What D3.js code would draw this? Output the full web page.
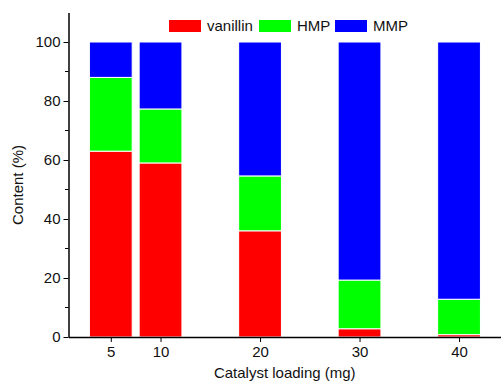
<!DOCTYPE html>
<html>
<head>
<meta charset="utf-8">
<script src="https://cdn.jsdelivr.net/npm/d3@7"></script>
<style>
body { margin: 0; background: #fff; }
svg text { font-family: "Liberation Sans", Arial, sans-serif; fill: #111; }
</style>
</head>
<body>
<div id="chart"></div>
<script>
const width = 501, height = 381;

// catalyst loading (mg)
const loading = [5, 10, 20, 30, 40];
// content (%) for each product
const vanillin = [63, 59, 36, 2.8, 0.8];
const hmp = [25, 18.3, 18.6, 16.5, 12];
const mmp = [12, 22.7, 45.4, 80.7, 87.2];

const seriesNames = ["vanillin", "HMP", "MMP"];
const seriesColors = ["#ff0000", "#00ff00", "#0000ff"];
const yTicks = [0, 20, 40, 60, 80, 100];

const margin = {left: 68.5, top: 12.5, bottom: 44};

// rows for the stack layout
const rows = loading.map((l, i) => ({x: l, vanillin: vanillin[i], HMP: hmp[i], MMP: mmp[i]}));
const stack = d3.stack().keys(seriesNames)(rows);

const x = d3.scaleLinear()
    .domain([0.75, 45])
    .range([margin.left, margin.left + 44.25 * 9.95]);

const y = d3.scaleLinear()
    .domain([0, 110])
    .range([height - margin.bottom, margin.top]);

const barW = x(4.3) - x(0);

const svg = d3.select("#chart")
  .append("svg")
    .attr("width", width)
    .attr("height", height);

// bars
svg.append("g")
  .selectAll("g")
  .data(stack)
  .enter().append("g")
    .attr("fill", (d, i) => seriesColors[i])
  .selectAll("rect")
  .data(d => d)
  .enter().append("rect")
    .attr("x", d => x(d.data.x) - barW / 2)
    .attr("y", d => y(d[1]))
    .attr("width", barW)
    .attr("height", d => y(d[0]) - y(d[1]))
    .attr("stroke", "#fff")
    .attr("stroke-width", 1);

// y axis, major + minor ticks
const yAxis = svg.append("g")
    .attr("transform", `translate(${margin.left},0)`)
    .call(d3.axisLeft(y).tickValues(yTicks).tickSize(5).tickPadding(3).tickSizeOuter(0))
    .call(g => g.select(".domain").attr("stroke", "#000").attr("stroke-width", 1.5));
yAxis.selectAll("text").attr("font-size", 15);

svg.append("g")
    .attr("transform", `translate(${margin.left},0)`)
  .selectAll("line")
  .data([10, 30, 50, 70, 90])
  .enter().append("line")
    .attr("x1", -3.5)
    .attr("x2", 0)
    .attr("y1", d => y(d))
    .attr("y2", d => y(d))
    .attr("stroke", "#000");

// x axis
const xAxis = svg.append("g")
    .attr("transform", `translate(0,${y(0)})`)
    .call(d3.axisBottom(x).tickValues(loading).tickSize(5).tickPadding(4).tickSizeOuter(0))
    .call(g => g.select(".domain").attr("stroke", "#000").attr("stroke-width", 1.5));
xAxis.selectAll("text").attr("font-size", 15);

// axis titles
svg.append("text")
    .attr("x", (margin.left + width) / 2)
    .attr("y", 378)
    .attr("text-anchor", "middle")
    .attr("font-size", 15)
    .text("Catalyst loading (mg)");

svg.append("text")
    .attr("transform", `translate(23,185) rotate(-90)`)
    .attr("text-anchor", "middle")
    .attr("font-size", 15)
    .text("Content (%)");

// legend
const legendX = [169, 259, 335];
const legend = svg.append("g")
  .selectAll("g")
  .data(seriesNames)
  .enter().append("g")
    .attr("transform", (d, i) => `translate(${legendX[i]},20)`);
legend.append("rect")
    .attr("width", 32)
    .attr("height", 12)
    .attr("fill", (d, i) => seriesColors[i]);
legend.append("text")
    .attr("x", 38)
    .attr("y", 11)
    .attr("font-size", 15)
    .text(d => d);
</script>
</body>
</html>
